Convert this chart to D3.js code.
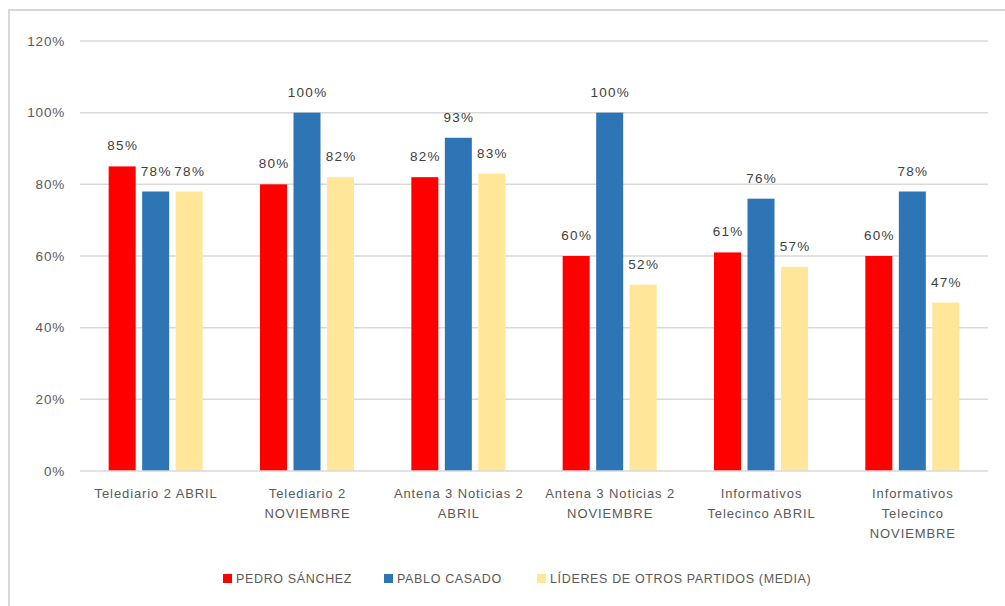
<!DOCTYPE html>
<html><head><meta charset="utf-8">
<script src="https://cdn.jsdelivr.net/npm/d3@7"></script>
<style>
body{margin:0;background:#fff;}
text{font-family:"Liberation Sans",Arial,sans-serif;}
</style></head>
<body><svg id="c" width="1005" height="606"></svg>
<script>
const categories = [
  ["Telediario 2 ABRIL"],
  ["Telediario 2", "NOVIEMBRE"],
  ["Antena 3 Noticias 2", "ABRIL"],
  ["Antena 3 Noticias 2", "NOVIEMBRE"],
  ["Informativos", "Telecinco ABRIL"],
  ["Informativos", "Telecinco", "NOVIEMBRE"]
];
const seriesNames = ["PEDRO SÁNCHEZ", "PABLO CASADO", "LÍDERES DE OTROS PARTIDOS (MEDIA)"];
const pedro = [85, 80, 82, 60, 61, 60];
const pablo = [78, 100, 93, 100, 76, 78];
const otros = [78, 82, 83, 52, 57, 47];
const yTicks = [0, 20, 40, 60, 80, 100, 120];
const colors = ["#ff0000", "#2e75b6", "#ffe699"];

const series = [pedro, pablo, otros];
const svg = d3.select("#c");

// outer border (cropped chart frame)
svg.append("path").attr("d", "M9,606V10H1005").attr("fill", "none")
  .attr("stroke", "#d9d9d9").attr("stroke-width", 2);

const x0 = d3.scaleBand().domain(d3.range(categories.length)).range([80, 988]);
const y = d3.scaleLinear().domain([0, 120]).range([471, 41]);

// gridlines
svg.append("g").selectAll("line").data(yTicks.filter(d => d > 0)).join("line")
  .attr("x1", 80).attr("x2", 988).attr("y1", d => y(d)).attr("y2", d => y(d))
  .attr("stroke", "#d9d9d9").attr("stroke-width", 1.5);

// y tick labels
svg.append("g").selectAll("text").data(yTicks).join("text")
  .attr("x", 65).attr("y", d => y(d)).attr("dy", "0.35em").attr("text-anchor", "end")
  .attr("font-size", 13.5).attr("letter-spacing", 0.8).attr("fill", "#595959").text(d => d + "%");

// bars
const barW = 27, gap = 6.5;
const groupW = barW * 3 + gap * 2;
function bx(ci, si) {
  return x0(ci) + x0.bandwidth() / 2 - groupW / 2 + si * (barW + gap);
}
series.forEach((vals, si) => {
  const g = svg.append("g");
  g.selectAll("rect").data(vals).join("rect")
    .attr("x", (d, i) => bx(i, si)).attr("width", barW)
    .attr("y", d => y(d)).attr("height", d => y(0) - y(d))
    .attr("fill", colors[si]);
  g.selectAll("text").data(vals).join("text")
    .attr("x", (d, i) => bx(i, si) + barW / 2 + 0.6).attr("y", d => y(d) - 16)
    .attr("text-anchor", "middle").attr("font-size", 13.5).attr("fill", "#404040")
    .attr("letter-spacing", 1.3)
    .text(d => d + "%");
});

// baseline
svg.append("line").attr("x1", 80).attr("x2", 988).attr("y1", y(0)).attr("y2", y(0))
  .attr("stroke", "#d9d9d9").attr("stroke-width", 1.5);

// x labels
const xl = svg.append("g");
categories.forEach((lines, i) => {
  const t = xl.append("text").attr("text-anchor", "middle").attr("font-size", 13)
    .attr("letter-spacing", 0.9).attr("fill", "#595959");
  lines.forEach((l, j) => {
    t.append("tspan").attr("x", x0(i) + x0.bandwidth() / 2 + 0.5).attr("y", 498 + j * 20).text(l);
  });
});

// legend
const legendX = [223, 384, 537];
const lg = svg.append("g");
seriesNames.forEach((n, i) => {
  lg.append("rect").attr("x", legendX[i]).attr("y", 574).attr("width", 9).attr("height", 9).attr("fill", colors[i]);
  lg.append("text").attr("x", legendX[i] + 13).attr("y", 579).attr("dy", "0.35em")
    .attr("font-size", 12.5).attr("letter-spacing", 0.65).attr("fill", "#595959").text(n);
});
</script></body></html>
